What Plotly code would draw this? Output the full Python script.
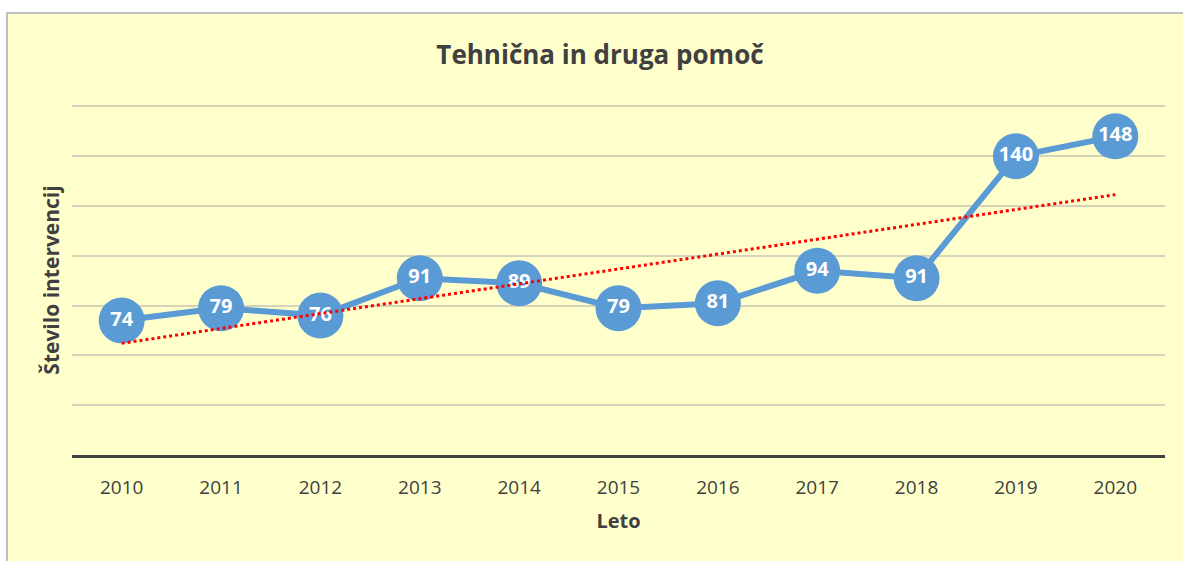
import numpy as np
import plotly.graph_objects as go

years = ["2010", "2011", "2012", "2013", "2014", "2015", "2016", "2017", "2018", "2019", "2020"]
values = [74, 79, 76, 91, 89, 79, 81, 94, 91, 140, 148]

# linear trendline from the data
xi = np.arange(len(values))
slope, intercept = np.polyfit(xi, values, 1)
trend = [intercept, intercept + slope * xi[-1]]

FONT = "Open Sans"
DARK = "#404040"

fig = go.Figure()
fig.add_trace(go.Scatter(
    x=years, y=values, mode="lines+markers+text",
    line=dict(color="#5B9BD5", width=6),
    marker=dict(size=46, color="#5B9BD5"),
    text=[str(v) for v in values], textposition="middle center",
    textfont=dict(family=FONT, size=20, color="white", weight="bold"),
    cliponaxis=False, hoverinfo="x+y", showlegend=False,
))
fig.add_trace(go.Scatter(
    x=[years[0], years[-1]], y=trend, mode="lines",
    line=dict(color="#FF0000", width=3, dash="dot"),
    hoverinfo="skip", showlegend=False,
))

fig.add_shape(type="rect", xref="paper", yref="paper",
              x0=(7 - 72) / 1093, x1=1.2, y0=-0.5, y1=(455 - 13) / 350,
              fillcolor="#FFFFCC", line=dict(color="#BFBFBF", width=2), layer="below")

fig.update_layout(
    width=1183, height=561,
    margin=dict(l=72, r=18, t=105, b=106),
    paper_bgcolor="white", plot_bgcolor="rgba(0,0,0,0)",
    title=dict(text="Tehnična in druga pomoč", x=600 / 1183, xanchor="center",
               y=1 - 55 / 561, yanchor="middle",
               font=dict(family=FONT, size=26, color=DARK, weight="bold")),
    font=dict(family=FONT, color=DARK),
    xaxis=dict(type="category", range=[-0.5, 10.5], showgrid=False,
               showline=True, linecolor=DARK, linewidth=3,
               ticks="outside", ticklen=13, tickcolor="rgba(0,0,0,0)",
               tickfont=dict(family=FONT, size=19, color=DARK),
               title=dict(text="Leto", standoff=16,
                          font=dict(family=FONT, size=20, color=DARK, weight="bold"))),
    yaxis=dict(range=[20, 160.6], tickvals=[20, 40, 60, 80, 100, 120, 140, 160],
               showticklabels=False, showgrid=True, gridcolor="#D5D4BA", gridwidth=1.5,
               zeroline=False, ticks="",
               title=dict(text="Število intervencij", standoff=5,
                          font=dict(family=FONT, size=21, color=DARK, weight="bold"))),
)

fig.write_html("out.html", config={"displayModeBar": False},
               post_script="document.body.style.margin='0px';document.body.style.padding='0px';")
